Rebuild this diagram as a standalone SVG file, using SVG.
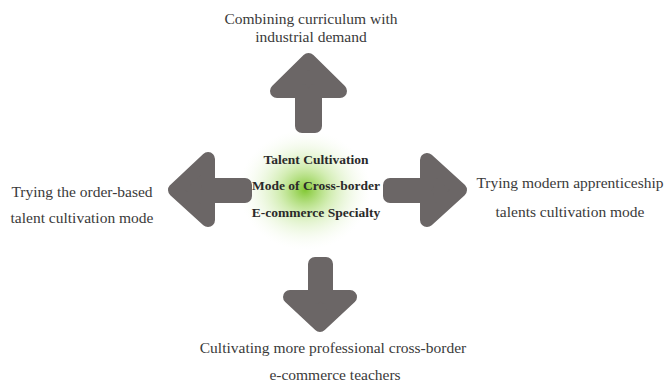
<svg xmlns="http://www.w3.org/2000/svg" width="664" height="385" viewBox="0 0 664 385">
<style>
.arrow{fill:#6b6666;stroke:#6b6666;stroke-width:14;stroke-linejoin:round;stroke-linecap:round}
.lbl{font-family:"Liberation Serif","DejaVu Serif",serif;font-size:15.5px;fill:#3a3a3a;text-anchor:middle}
.ctr{font-family:"Liberation Serif","DejaVu Serif",serif;font-size:13.5px;font-weight:bold;fill:#2a2a2a;text-anchor:middle}
</style>
<defs>
<radialGradient id="glow" cx="0.5" cy="0.5" r="0.5">
<stop offset="0" stop-color="#7cc52a" stop-opacity="0.95"/>
<stop offset="0.4" stop-color="#a8dc6a" stop-opacity="0.5"/>
<stop offset="1" stop-color="#eef8e2" stop-opacity="0"/>
</radialGradient>
</defs>
<rect width="664" height="385" fill="#ffffff"/>
<g id="center">
<ellipse cx="305" cy="190" rx="66" ry="60" fill="url(#glow)"/>
<text class="ctr" x="316" y="164">Talent Cultivation</text>
<text class="ctr" x="316" y="190">Mode of Cross-border</text>
<text class="ctr" x="316" y="217">E-commerce Specialty</text>
</g>
<g id="connectors">
<path class="arrow" d="M308.5,60 L340,91 L315,91 L315,126 L302,126 L302,91 L277,91 Z"/>
<path class="arrow" d="M175,190 L208,159 L208,185 L245,185 L245,196 L208,196 L208,220 Z"/>
<path class="arrow" d="M460,190 L427,160 L427,185 L390,185 L390,196 L427,196 L427,220 Z"/>
<path class="arrow" d="M320,325 L350,297 L326,297 L326,264 L315,264 L315,297 L290,297 Z"/>
</g>
<g id="top">
<text class="lbl" x="311" y="24">Combining curriculum with</text>
<text class="lbl" x="311" y="42">industrial demand</text>
</g>
<g id="left">
<text class="lbl" x="82" y="197">Trying the order-based</text>
<text class="lbl" x="82" y="223">talent cultivation mode</text>
</g>
<g id="right">
<text class="lbl" x="570" y="188">Trying modern apprenticeship</text>
<text class="lbl" x="570" y="217">talents cultivation mode</text>
</g>
<g id="bottom">
<text class="lbl" x="333" y="353">Cultivating more professional cross-border</text>
<text class="lbl" x="335" y="380">e-commerce teachers</text>
</g>
</svg>
